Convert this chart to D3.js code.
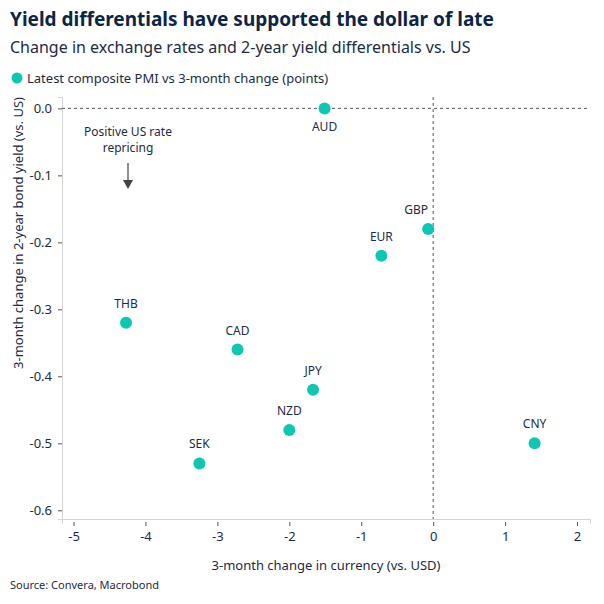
<!DOCTYPE html>
<html>
<head>
<meta charset="utf-8">
<title>Yield differentials</title>
<script src="https://cdn.jsdelivr.net/npm/d3@7"></script>
<style>
  body { margin: 0; background: #fff; }
  text { font-family: "Segoe UI", "Noto Sans", "Open Sans", sans-serif; }
</style>
</head>
<body>
<script>
// currency, 3m change vs USD, 3m change in 2y yield differential
var currencies = ["AUD", "GBP", "EUR", "THB", "CAD", "JPY", "NZD", "SEK", "CNY"];
var fxChange   = [-1.51, -0.07, -0.72, -4.27, -2.72, -1.67, -2.00, -3.25, 1.41];
var yieldDiff  = [0.00, -0.18, -0.22, -0.32, -0.36, -0.42, -0.48, -0.53, -0.50];
var xTicks = [-5, -4, -3, -2, -1, 0, 1, 2];
var yTicks = [0, -0.1, -0.2, -0.3, -0.4, -0.5, -0.6];

var width = 604, height = 604;
var navy = "#0b2545", teal = "#0fc6b2";

var svg = d3.select("body").append("svg")
    .attr("width", width)
    .attr("height", height);

var x = d3.scaleLinear().domain([-5.16, 2.18]).range([62, 590]);
var y = d3.scaleLinear().domain([0.017, -0.613]).range([97, 519]);

// titles
svg.append("text").attr("x", 10).attr("y", 26)
    .attr("font-size", 19).attr("font-weight", "bold").attr("fill", navy)
    .text("Yield differentials have supported the dollar of late");
svg.append("text").attr("x", 10).attr("y", 53)
    .attr("font-size", 16).attr("fill", "#1c2b45")
    .text("Change in exchange rates and 2-year yield differentials vs. US");

// legend
svg.append("circle").attr("cx", 17).attr("cy", 78).attr("r", 5.5).attr("fill", teal);
svg.append("text").attr("x", 27).attr("y", 82.5)
    .attr("font-size", 13).attr("fill", "#1c2b45")
    .text("Latest composite PMI vs 3-month change (points)");

// axes
var xAxis = svg.append("g").attr("transform", "translate(0,519)")
    .call(d3.axisBottom(x).tickValues(xTicks).tickSize(5).tickPadding(8).tickFormat(d3.format("d")));
var yAxis = svg.append("g").attr("transform", "translate(62,0)")
    .call(d3.axisLeft(y).tickValues(yTicks).tickSize(4).tickPadding(6).tickFormat(d3.format(".1f")));

[xAxis, yAxis].forEach(function(a) {
    a.select(".domain").attr("stroke", "#d4d4d4");
    a.selectAll(".tick line").attr("stroke", "#555");
    a.selectAll(".tick text").attr("font-size", 13).attr("fill", "#1c2b45")
        .style("font-family", "'Segoe UI', 'Noto Sans', sans-serif");
});
xAxis.selectAll(".tick line").attr("y1", 3).attr("y2", 7);
yAxis.selectAll(".tick text").text(function(d) { return d3.format(".1f")(d).replace("\u2212", "-"); });
xAxis.selectAll(".tick text").text(function(d) { return String(d); });

// zero lines
svg.append("line")
    .attr("x1", 62).attr("x2", 590).attr("y1", y(0)).attr("y2", y(0))
    .attr("stroke", "#555").attr("stroke-dasharray", "3,3");
svg.append("line")
    .attr("x1", x(0)).attr("x2", x(0)).attr("y1", 97).attr("y2", 519)
    .attr("stroke", "#555").attr("stroke-dasharray", "3,3");

// axis titles
svg.append("text").attr("x", 326).attr("y", 570)
    .attr("text-anchor", "middle").attr("font-size", 13).attr("fill", "#1c2b45")
    .text("3-month change in currency (vs. USD)");
svg.append("text")
    .attr("transform", "translate(23,97) rotate(-90)")
    .attr("text-anchor", "end").attr("font-size", 13).attr("fill", "#1c2b45")
    .text("3-month change in 2-year bond yield (vs. US)");

// annotation
var ann = svg.append("text").attr("text-anchor", "middle")
    .attr("font-size", 12).attr("fill", "#1c2b45");
ann.append("tspan").attr("x", 128).attr("y", 136).text("Positive US rate");
ann.append("tspan").attr("x", 128).attr("y", 152).text("repricing");
svg.append("line").attr("x1", 128).attr("x2", 128).attr("y1", 163).attr("y2", 182)
    .attr("stroke", "#444").attr("stroke-width", 1.2);
svg.append("path").attr("d", "M123,180 L133,180 L128,189 Z").attr("fill", "#444");

// points
var data = currencies.map(function(c, i) { return {name: c, fx: fxChange[i], yd: yieldDiff[i]}; });

svg.selectAll("circle.pt").data(data).enter().append("circle")
    .attr("class", "pt")
    .attr("cx", function(d) { return x(d.fx); })
    .attr("cy", function(d) { return y(d.yd); })
    .attr("r", 6)
    .attr("fill", teal);

svg.selectAll("text.lbl").data(data).enter().append("text")
    .attr("class", "lbl")
    .attr("text-anchor", "middle")
    .attr("font-size", 12).attr("fill", "#1c2b45")
    .attr("x", function(d) { return x(d.fx) + (d.name === "GBP" ? -12 : 0); })
    .attr("y", function(d) { return y(d.yd) + (d.name === "AUD" ? 23 : -15); })
    .text(function(d) { return d.name; });

// source
svg.append("text").attr("x", 10).attr("y", 589)
    .attr("font-size", 11).attr("fill", "#1c2b45")
    .text("Source: Convera, Macrobond");
</script>
</body>
</html>
